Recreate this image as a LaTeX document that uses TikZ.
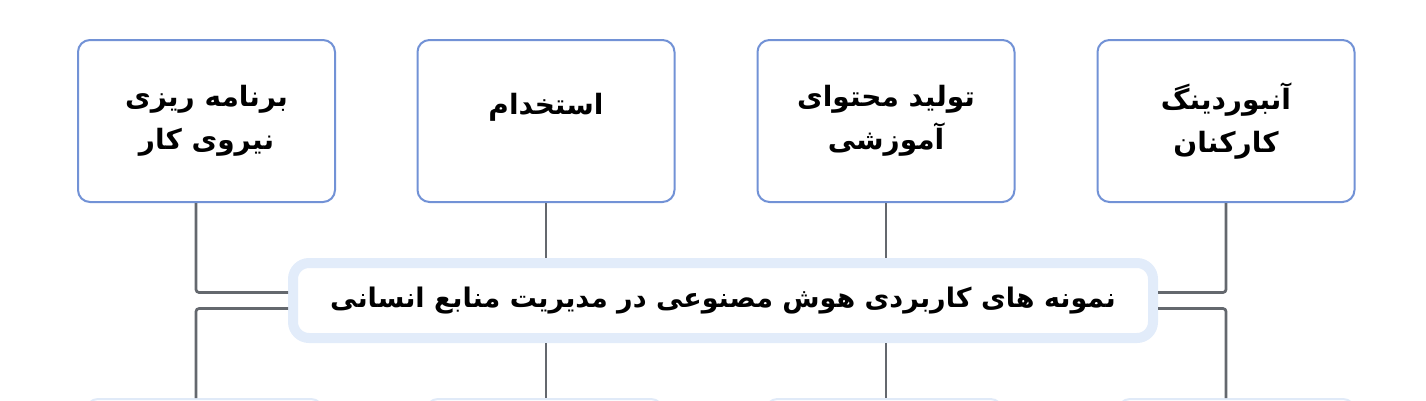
\documentclass[tikz,border=0pt]{standalone}
\usepackage{fontspec}
\usepackage{xcolor}
\usepackage{tikz}
\usetikzlibrary{positioning}
\TeXXeTstate=1
\newfontfamily\farsifont[Script=Arabic]{DejaVu Sans}
\newcommand{\fatext}[1]{\beginR #1\endR}
\definecolor{boxblue}{RGB}{114,146,214}
\definecolor{linkgray}{RGB}{100,104,110}
\definecolor{glowblue}{RGB}{226,236,250}
\definecolor{faintblue}{RGB}{224,234,248}
\tikzset{
    usecase/.style={rectangle, rounded corners=12pt, minimum width=257pt, minimum height=162pt, text centered, draw=boxblue, line width=2pt, fill=white, align=center, font=\farsifont\bfseries\fontsize{28}{43}\selectfont},
    lowcase/.style={rectangle, rounded corners=12pt, minimum width=237pt, minimum height=162pt, draw=faintblue, line width=2pt, fill=white},
    hub/.style={rectangle, rounded corners=16pt, minimum width=860pt, minimum height=75pt, text centered, draw=glowblue, line width=10pt, fill=white, font=\farsifont\bfseries\fontsize{27}{33}\selectfont},
    link/.style={draw=linkgray, line width=2.7pt, rounded corners=3pt}
}
\begin{document}
\begin{tikzpicture}[x=1pt, y=-1pt]
    \useasboundingbox (0,0) rectangle (1426,400);
    \clip (0,0) rectangle (1426,400);

    % Use cases
    \node[usecase] (plan) at (206.5,121) {\fatext{برنامه ریزی}\\ \fatext{نیروی کار}};
    \node[usecase, text depth=34pt] (hire) at (546,121) {\fatext{استخدام}};
    \node[usecase] (content) at (886,121) {\fatext{تولید محتوای}\\ \fatext{آموزشی}};
    \node[usecase] (onboard) at (1226,121) {\fatext{آنبوردینگ}\\ \fatext{کارکنان}};

    % Lower row (cut off)
    \node[lowcase, anchor=north] (low1) at (204.5,398) {};
    \node[lowcase, anchor=north] (low2) at (544.5,398) {};
    \node[lowcase, anchor=north] (low3) at (884,398) {};
    \node[lowcase, anchor=north] (low4) at (1236.5,398) {};

    % Central topic
    \node[hub] (hub) at (723,300.5) {\fatext{نمونه های کاربردی هوش مصنوعی در مدیریت منابع انسانی}};

    % Links
    \draw[link] ([xshift=-10.5pt]plan.south) |- ([yshift=8pt]hub.west);
    \draw[link] ([yshift=-8pt]hub.west) -| ([xshift=-8.5pt]low1.north);
    \draw[link] (hire.south) -- (hire.south |- hub.north);
    \draw[link] (hire.south |- hub.south) -- (hire.south |- low2.north);
    \draw[link] (content.south) -- (content.south |- hub.north);
    \draw[link] (content.south |- hub.south) -- (content.south |- low3.north);
    \draw[link] (onboard.south) |- ([yshift=8pt]hub.east);
    \draw[link] ([yshift=-8pt]hub.east) -| (onboard.south |- low4.north);
\end{tikzpicture}
\end{document}
